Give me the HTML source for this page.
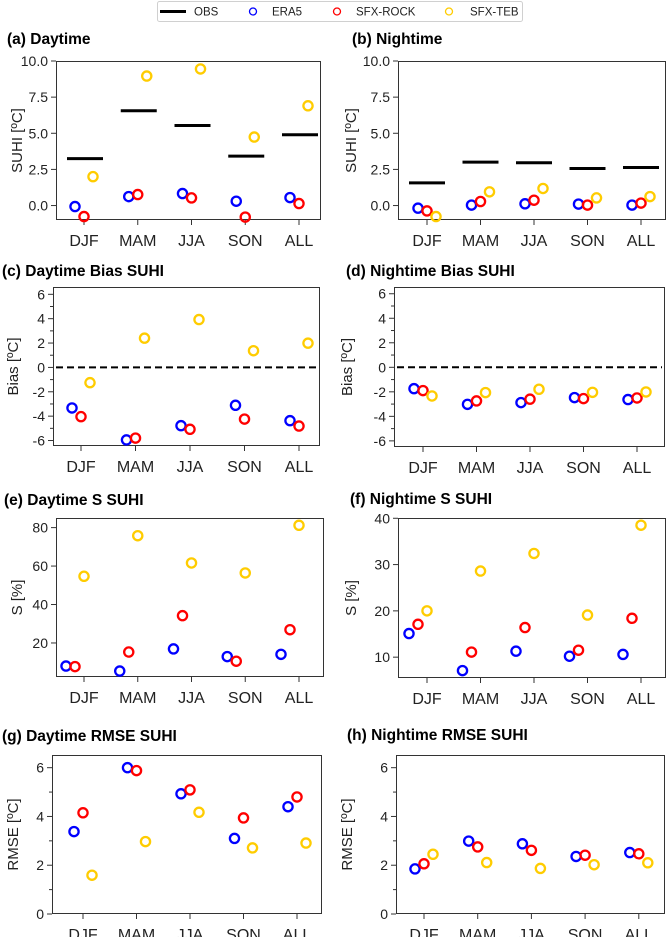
<!DOCTYPE html>
<html><head><meta charset="utf-8">
<style>
html,body{margin:0;padding:0;background:#fff;}
svg{display:block;font-family:"Liberation Sans","DejaVu Sans",sans-serif;}
</style></head>
<body>
<svg id="fig" width="668" height="937" viewBox="0 0 668 937" xmlns="http://www.w3.org/2000/svg">
  <g>
    <rect x="157.5" y="1.5" width="365" height="20" rx="2" fill="#fff" stroke="#d0d0d0" stroke-width="1"/>
    <line x1="160" y1="11.5" x2="186" y2="11.5" stroke="#000" stroke-width="3"/>
    <text x="194" y="15.5" font-size="11.5" fill="#222">OBS</text>
    <circle cx="253" cy="11.5" r="3.5" fill="none" stroke="#0000ff" stroke-width="1.3"/>
    <text x="272" y="15.5" font-size="11.5" fill="#222">ERA5</text>
    <circle cx="337" cy="11.5" r="3.5" fill="none" stroke="#ff0000" stroke-width="1.3"/>
    <text x="356" y="15.5" font-size="11.5" fill="#222">SFX-ROCK</text>
    <circle cx="449" cy="11.5" r="3.5" fill="none" stroke="#ffcc00" stroke-width="1.3"/>
    <text x="470" y="15.5" font-size="11.5" fill="#222">SFX-TEB</text>
  </g>
</svg>
<script>
const categories = ["DJF","MAM","JJA","SON","ALL"];

const aObs  = [3.25, 6.56, 5.54, 3.42, 4.9];
const aEra5 = [-0.07, 0.62, 0.83, 0.3, 0.55];
const aRock = [-0.76, 0.76, 0.53, -0.8, 0.14];
const aTeb  = [2.0, 8.96, 9.45, 4.74, 6.9];

const bObs  = [1.57, 3.0, 2.96, 2.56, 2.63];
const bEra5 = [-0.18, 0.03, 0.12, 0.1, 0.03];
const bRock = [-0.37, 0.28, 0.37, 0.03, 0.17];
const bTeb  = [-0.76, 0.95, 1.18, 0.53, 0.62];

const cEra5 = [-3.33, -5.95, -4.78, -3.11, -4.37];
const cRock = [-4.04, -5.8, -5.08, -4.24, -4.81];
const cTeb  = [-1.25, 2.4, 3.93, 1.37, 1.99];

const dEra5 = [-1.74, -3.02, -2.88, -2.47, -2.63];
const dRock = [-1.9, -2.74, -2.6, -2.55, -2.5];
const dTeb  = [-2.34, -2.06, -1.79, -2.04, -2.01];

const eEra5 = [8.0, 5.4, 16.9, 12.9, 14.1];
const eRock = [7.7, 15.3, 34.2, 10.5, 26.9];
const eTeb  = [54.7, 75.8, 61.6, 56.4, 81.2];

const fEra5 = [15.1, 7.1, 11.3, 10.2, 10.6];
const fRock = [17.1, 11.1, 16.4, 11.5, 18.4];
const fTeb  = [20.0, 28.6, 32.4, 19.1, 38.5];

const gEra5 = [3.38, 6.0, 4.93, 3.1, 4.4];
const gRock = [4.15, 5.88, 5.09, 3.94, 4.8];
const gTeb  = [1.59, 2.97, 4.17, 2.71, 2.91];

const hEra5 = [1.85, 2.99, 2.88, 2.36, 2.52];
const hRock = [2.06, 2.75, 2.61, 2.41, 2.47];
const hTeb  = [2.45, 2.11, 1.87, 2.02, 2.1];

const suhiTicks = [0, 2.5, 5, 7.5, 10];
const suhiTickLabels = ["0.0","2.5","5.0","7.5","10.0"];
const biasTicks = [-6,-4,-2,0,2,4,6];
const biasMinor = [-5,-3,-1,1,3,5];
const sDayTicks = [20,40,60,80];
const sNightTicks = [10,20,30,40];
const rmseTicks = [0,2,4,6];
const rmseMinor = [1,3,5];

const NS = "http://www.w3.org/2000/svg";
const svg = document.getElementById("fig");
function mk(tag, attrs, parent){
  const e = document.createElementNS(NS, tag);
  for (const k in attrs) e.setAttribute(k, attrs[k]);
  (parent||svg).appendChild(e);
  return e;
}

const panels = [
 {id:"a", title:"(a) Daytime", tx:7, ty:44, L:56, R:321, T:61, B:220, ymin:-1, ymax:10, c0:84, step:53.75, ylab:"SUHI [ºC]", ylx:22,
  ticks:suhiTicks, tl:suhiTickLabels, minor:[], obs:aObs, era:aEra5, rock:aRock, teb:aTeb, off:[-9,0,9], obsC:1},
 {id:"b", title:"(b) Nightime", tx:352, ty:44, L:398, R:666, T:61, B:220, ymin:-1, ymax:10, c0:427, step:53.5, ylab:"SUHI [ºC]", ylx:356,
  ticks:suhiTicks, tl:suhiTickLabels, minor:[], obs:bObs, era:bEra5, rock:bRock, teb:bTeb, off:[-9,0,9], obsC:0},
 {id:"c", title:"(c) Daytime Bias SUHI", tx:2, ty:276, L:53, R:320, T:287, B:446, ymin:-6.45, ymax:6.6, c0:81, step:54.5, ylab:"Bias [ºC]", ylx:18,
  ticks:biasTicks, minor:biasMinor, zero:true, era:cEra5, rock:cRock, teb:cTeb, off:[-9,0,9]},
 {id:"d", title:"(d) Nightime Bias SUHI", tx:346, ty:276, L:394, R:665, T:287, B:447, ymin:-6.5, ymax:6.55, c0:423, step:53.5, ylab:"Bias [ºC]", ylx:352,
  ticks:biasTicks, minor:biasMinor, zero:true, era:dEra5, rock:dRock, teb:dTeb, off:[-9,0,9]},
 {id:"e", title:"(e) Daytime S SUHI", tx:4, ty:505, L:56, R:324, T:518, B:677, ymin:2.3, ymax:85, c0:84, step:53.75, ylab:"S [%]", ylx:22,
  ticks:sDayTicks, minor:[], era:eEra5, rock:eRock, teb:eTeb, off:[-18,-9,0]},
 {id:"f", title:"(f) Nightime S SUHI", tx:350, ty:504, L:398, R:666, T:518, B:678, ymin:5.5, ymax:40.06, c0:427, step:53.5, ylab:"S [%]", ylx:356,
  ticks:sNightTicks, minor:[], era:fEra5, rock:fRock, teb:fTeb, off:[-18,-9,0]},
 {id:"g", title:"(g) Daytime RMSE SUHI", tx:2, ty:741, L:52, R:322, T:755, B:914, ymin:0, ymax:6.52, c0:83, step:53.5, ylab:"RMSE [ºC]", ylx:18,
  ticks:rmseTicks, minor:rmseMinor, era:gEra5, rock:gRock, teb:gTeb, off:[-9,0,9]},
 {id:"h", title:"(h) Nightime RMSE SUHI", tx:347, ty:740, L:396, R:665, T:755, B:914, ymin:0, ymax:6.52, c0:424, step:53.7, ylab:"RMSE [ºC]", ylx:352,
  ticks:rmseTicks, minor:rmseMinor, era:hEra5, rock:hRock, teb:hTeb, off:[-9,0,9]},
];

panels.forEach(p=>{
  const g = mk("g", {});
  
  
  const y = v => p.B - (v - p.ymin) / (p.ymax - p.ymin) * (p.B - p.T);
  const x = i => p.c0 + i * p.step;

  const t = mk("text", {x:p.tx, y:p.ty, "font-size":"15.5", "font-weight":"bold", fill:"#000"}, g);
  t.textContent = p.title;
  
  

  const box = mk("rect", {x:p.L+0.5, y:p.T+0.5, width:p.R-p.L-1, height:p.B-p.T-1, fill:"none", stroke:"#333", "stroke-width":"1"}, g);
  
  

  p.ticks.forEach((v,k)=>{
    const yy = y(v);
    mk("line", {x1:p.L-5, x2:p.L, y1:yy, y2:yy, stroke:"#333", "stroke-width":"1"}, g);
    const lb = mk("text", {x:p.L-8, y:yy+5, "font-size":"14", "text-anchor":"end", fill:"#222"}, g);
    lb.textContent = p.tl ? p.tl[k] : String(v);
    
    
  });
  p.minor.forEach(v=>{
    const yy = y(v);
    mk("line", {x1:p.L-3, x2:p.L, y1:yy, y2:yy, stroke:"#333", "stroke-width":"1"}, g);
  });
  categories.forEach((c,i)=>{
    mk("line", {x1:x(i), x2:x(i), y1:p.B, y2:p.B+5, stroke:"#333", "stroke-width":"1"}, g);
    const lb = mk("text", {x:x(i), y:p.B+26, "font-size":"16", "text-anchor":"middle", fill:"#222"}, g);
    lb.textContent = c;
    
    
  });
  const yl = mk("text", {x:0, y:0, "font-size":"15", "text-anchor":"middle", fill:"#222",
    transform:`translate(${p.ylx},${(p.T+p.B)/2}) rotate(-90)`}, g);
  yl.textContent = p.ylab;
  
  

  if (p.zero){
    const zl = mk("line", {x1:p.L+3, x2:p.R-3, y1:y(0), y2:y(0), stroke:"#000", "stroke-width":"2", "stroke-dasharray":"7,4"}, g);
    
    
  }
  if (p.obs){
    p.obs.forEach((v,i)=>{
      const cx = x(i) + p.obsC;
      const l = mk("line", {x1:cx-18, x2:cx+18, y1:y(v), y2:y(v), stroke:"#000", "stroke-width":"3"}, g);
      
      
    });
  }
  const series = [["era5", p.era, "#0000ff"], ["rock", p.rock, "#ff0000"], ["teb", p.teb, "#ffcc00"]];
  series.forEach((s,si)=>{
    s[1].forEach((v,i)=>{
      const m = mk("circle", {cx:x(i)+p.off[si], cy:y(v), r:"4.6", fill:"none", stroke:s[2], "stroke-width":"2.3"}, g);
      
      
    });
  });
});
</script>
</body></html>
